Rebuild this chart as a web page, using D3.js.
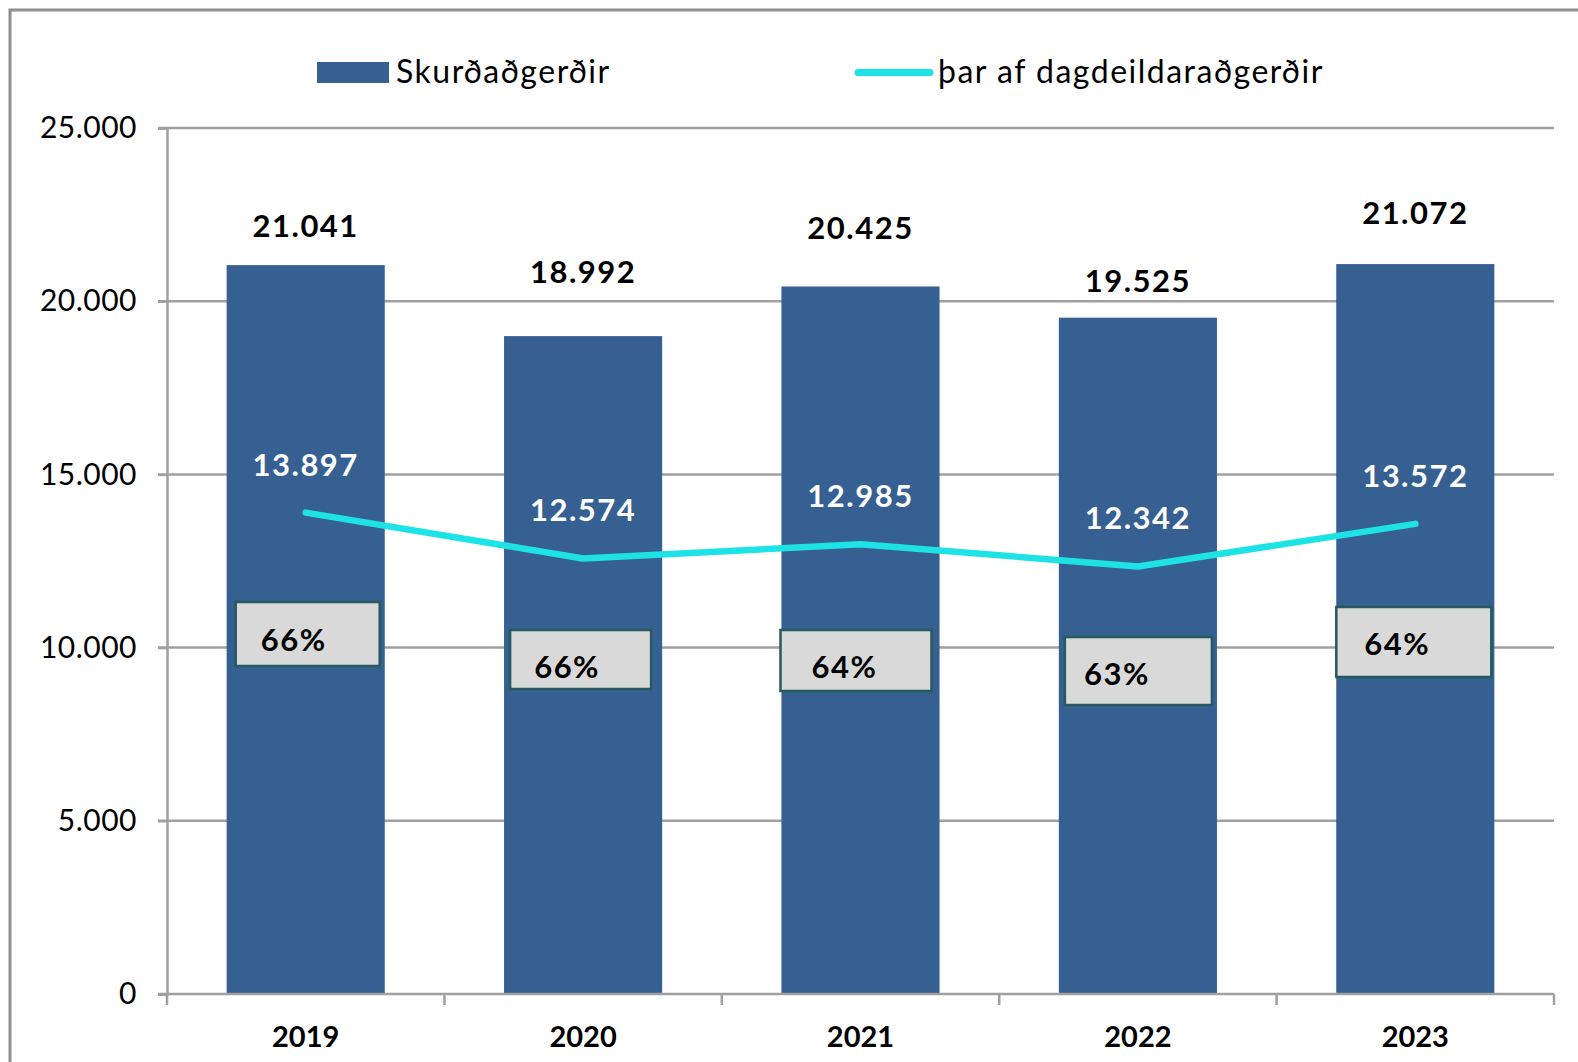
<!DOCTYPE html>
<html><head><meta charset="utf-8">
<script src="https://cdn.jsdelivr.net/npm/d3@7"></script>
<style>
html,body{margin:0;padding:0;background:#fff;overflow:hidden;}
text{font-family:Lato,"Liberation Sans",sans-serif;}
</style></head>
<body><svg id="c" width="1578" height="1062"></svg>
<script>
const years = ["2019","2020","2021","2022","2023"];
const surgeries = [21041,18992,20425,19525,21072];
const dayCases = [13897,12574,12985,12342,13572];
const shares = ["66%","66%","64%","63%","64%"];
const yTicks = [0,5000,10000,15000,20000,25000];
const seriesNames = ["Skurðaðgerðir","þar af dagdeildaraðgerðir"];

// layout (presentation only)
const barLabelDy = [-39,-64,-58,-37,-51];
const boxLayout = [
  {dx:-70, y:602, w:144, h:64, tx:-12, ty:640},
  {dx:-73, y:630, w:141, h:59, tx:-16, ty:667},
  {dx:-80, y:630, w:151, h:61, tx:-16, ty:667},
  {dx:-73, y:637, w:147, h:68, tx:-21, ty:674},
  {dx:-79, y:607, w:155, h:70, tx:-18, ty:644}
];

const svg = d3.select("#c");
const L=167, R=1554, T=128, B=994;
const fmt = v => d3.format(",")(v).replace(/,/g,".");

svg.append("rect").attr("x",10).attr("y",10).attr("width",1600).attr("height",1100)
  .attr("fill","#fff").attr("stroke","#8e8e8e").attr("stroke-width",3);

const x = d3.scaleBand().domain(years).range([L,R]).paddingInner(0.43).paddingOuter(0.215);
const xb = d3.scaleBand().domain(years).range([L,R]);
const y = d3.scaleLinear().domain([0,25000]).range([B,T]);

svg.append("g").selectAll("line").data(yTicks.filter(d=>d>0)).join("line")
  .attr("x1",L-9).attr("x2",R).attr("y1",d=>y(d)).attr("y2",d=>y(d))
  .attr("stroke","#a0a0a0").attr("stroke-width",2.5);

const ya = svg.append("g").attr("transform",`translate(${L},0)`)
  .call(d3.axisLeft(y).tickValues(yTicks).tickSize(9).tickPadding(21).tickFormat(fmt));
ya.select(".domain").attr("stroke","#a0a0a0").attr("stroke-width",2.5);
ya.selectAll(".tick line").attr("stroke","#a0a0a0").attr("stroke-width",2.5);
ya.selectAll(".tick text").attr("font-size",30).attr("letter-spacing",0.5).attr("fill","#000").attr("font-family","Lato");

svg.append("g").selectAll("rect").data(years).join("rect")
  .attr("x",d=>x(d)).attr("width",x.bandwidth())
  .attr("y",(d,i)=>y(surgeries[i])).attr("height",(d,i)=>B-y(surgeries[i]))
  .attr("fill","#366092");

const xa = svg.append("g").attr("transform",`translate(0,${B})`)
  .call(d3.axisBottom(xb).tickSize(0).tickPadding(0));
xa.select(".domain").remove();
xa.selectAll(".tick text").remove();
svg.append("line").attr("x1",L-9).attr("x2",R).attr("y1",B).attr("y2",B)
  .attr("stroke","#a0a0a0").attr("stroke-width",2.5);
const bounds = years.map(d=>xb(d)).concat([R]);
svg.append("g").selectAll("line").data(bounds).join("line")
  .attr("x1",d=>d).attr("x2",d=>d).attr("y1",B).attr("y2",B+11)
  .attr("stroke","#a0a0a0").attr("stroke-width",2.5);
svg.append("g").selectAll("text").data(years).join("text")
  .attr("x",d=>xb(d)+xb.bandwidth()/2).attr("y",1047)
  .attr("text-anchor","middle").attr("font-size",29).attr("font-weight","bold")
  .text(d=>d);

svg.append("g").selectAll("text").data(years).join("text")
  .attr("x",d=>xb(d)+xb.bandwidth()/2).attr("y",(d,i)=>y(surgeries[i])+barLabelDy[i]+11)
  .attr("text-anchor","middle").attr("font-size",31).attr("letter-spacing",1.5).attr("font-weight","bold")
  .text((d,i)=>fmt(surgeries[i]));

const cx = d => xb(d)+xb.bandwidth()/2;
svg.append("path").datum(years)
  .attr("d",d3.line().x(d=>cx(d)).y((d,i)=>y(dayCases[i])))
  .attr("fill","none").attr("stroke","#1de3e6").attr("stroke-width",6.5).attr("stroke-linejoin","round").attr("stroke-linecap","round");

svg.append("g").selectAll("text").data(years).join("text")
  .attr("x",d=>cx(d)).attr("y",(d,i)=>y(dayCases[i])-48+11)
  .attr("text-anchor","middle").attr("font-size",31).attr("letter-spacing",1.5).attr("font-weight","bold").attr("fill","#fff")
  .text((d,i)=>fmt(dayCases[i]));

const bx = svg.append("g");
years.forEach((d,i)=>{
  const b = boxLayout[i];
  bx.append("rect").attr("x",cx(d)+b.dx).attr("y",b.y).attr("width",b.w).attr("height",b.h)
    .attr("fill","#d9d9d9").attr("stroke","#255a5e").attr("stroke-width",2.5);
  bx.append("text").attr("x",cx(d)+b.tx).attr("y",b.ty+11).attr("text-anchor","middle")
    .attr("font-size",31).attr("letter-spacing",1.5).attr("font-weight","bold").text(shares[i]);
});

svg.append("rect").attr("x",317).attr("y",62).attr("width",72).attr("height",21).attr("fill","#366092");
svg.append("text").attr("x",396).attr("y",83).attr("font-size",32).attr("letter-spacing",1.5).text(seriesNames[0]);
svg.append("line").attr("x1",858).attr("x2",930).attr("y1",72.5).attr("y2",72.5)
  .attr("stroke","#1de3e6").attr("stroke-width",7).attr("stroke-linecap","round");
svg.append("text").attr("x",938).attr("y",83).attr("font-size",32).attr("letter-spacing",1.5).text(seriesNames[1]);
</script></body></html>
